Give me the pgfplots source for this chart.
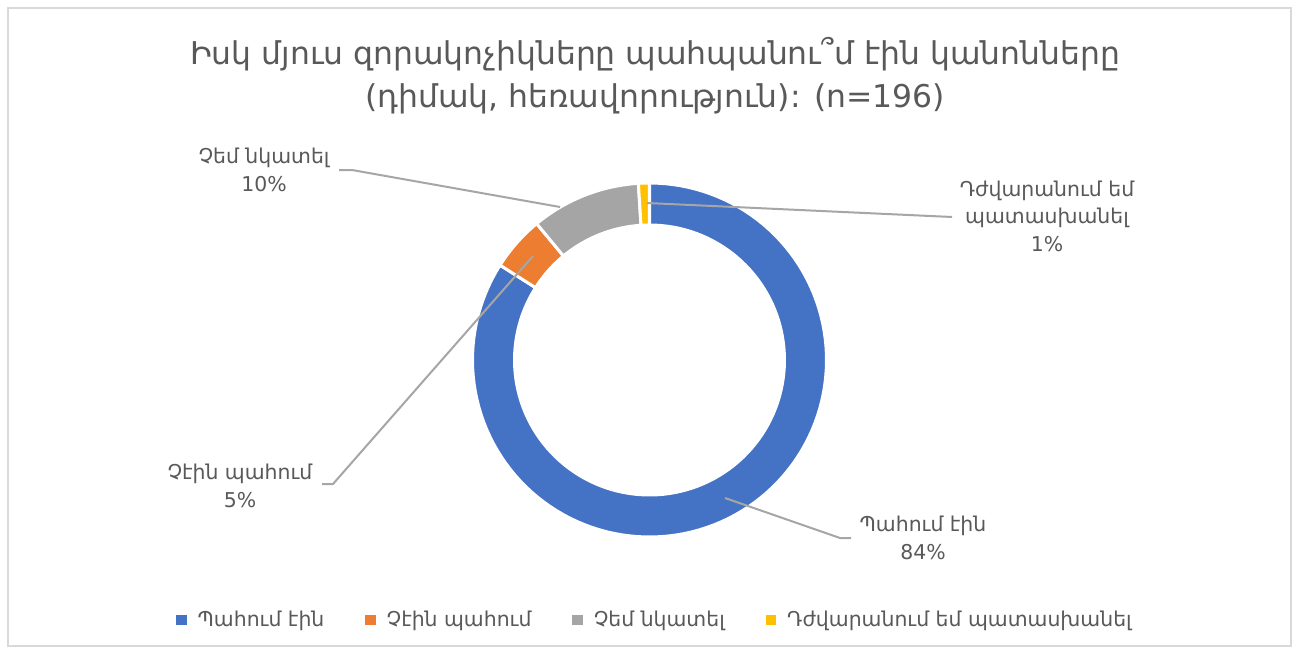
\documentclass[border=0pt]{standalone}
\usepackage{pgfplots}
\pgfplotsset{compat=1.18}
\usepackage{pgfplotstable}
\usepackage{fontspec}
\setmainfont{DejaVu Sans}
\definecolor{cblue}{HTML}{4472C4}
\definecolor{corange}{HTML}{ED7D31}
\definecolor{cgray}{HTML}{A5A5A5}
\definecolor{cyellow}{HTML}{FFC000}
\definecolor{txt}{HTML}{595959}
\definecolor{lead}{HTML}{A6A6A6}
\definecolor{frame}{HTML}{D9D9D9}

\pgfplotstableread{
value
84
5
10
1
}\donutdata

\newcommand\tfont{\fontsize{15.7bp}{21.5bp}\selectfont}
\newcommand\lfont{\fontsize{10.2bp}{13.8bp}\selectfont}
\newcommand\gfont{\fontsize{10.2bp}{12bp}\selectfont}

\newcommand\ringslice[3]{%
 \filldraw[fill=#3, draw=white, line width=1.5bp, line join=round]
   (axis cs:{649.5+177*cos(#1)},{360-177*sin(#1)})
   \foreach \i in {1,...,120} { -- (axis cs:{649.5+177*cos((#1)+((#2)-(#1))*\i/120)},{360-177*sin((#1)+((#2)-(#1))*\i/120)}) }
   \foreach \i in {0,...,120} { -- (axis cs:{649.5+135*cos((#2)+((#1)-(#2))*\i/120)},{360-135*sin((#2)+((#1)-(#2))*\i/120)}) }
   -- cycle;}

\begin{document}
\begin{tikzpicture}
\pgfplotstablegetelem{0}{value}\of\donutdata\pgfmathsetmacro\va{\pgfplotsretval}
\pgfplotstablegetelem{1}{value}\of\donutdata\pgfmathsetmacro\vb{\pgfplotsretval}
\pgfplotstablegetelem{2}{value}\of\donutdata\pgfmathsetmacro\vc{\pgfplotsretval}
\pgfplotstablegetelem{3}{value}\of\donutdata\pgfmathsetmacro\vd{\pgfplotsretval}
\pgfmathsetmacro\total{\va+\vb+\vc+\vd}
\pgfmathsetmacro\aA{90}
\pgfmathsetmacro\aB{\aA-360*(\va/\total)}
\pgfmathsetmacro\aC{\aB-360*(\vb/\total)}
\pgfmathsetmacro\aD{\aC-360*(\vc/\total)}
\pgfmathsetmacro\aE{\aD-360*(\vd/\total)}
\begin{axis}[
  scale only axis, width=649.5bp, height=327bp,
  xmin=0, xmax=1299, ymin=0, ymax=654, y dir=reverse,
  hide axis, clip=false,
  legend columns=4,
  legend style={at={(axis cs:656,620)}, anchor=center, draw=none, fill=none,
    font=\gfont, text=txt, inner sep=0pt,
    /tikz/every even column/.append style={column sep=18.5bp}},
  legend image code/.code={\fill[#1] (0bp,-2.4bp) rectangle (4.8bp,2.4bp);\path (8.3bp,0bp);},
]
\fill[white] (axis cs:0,0) rectangle (axis cs:1299,654);
\draw[frame, line width=1bp] (axis cs:8,8) rectangle (axis cs:1291,646);

\ringslice{\aA}{\aB}{cblue}
\ringslice{\aB}{\aC}{corange}
\ringslice{\aC}{\aD}{cgray}
\ringslice{\aD}{\aE}{cyellow}

\draw[lead, line width=1bp] (axis cs:339,170) -- (axis cs:352,170) -- (axis cs:560,207);
\draw[lead, line width=1bp] (axis cs:647,203) -- (axis cs:952,217);
\draw[lead, line width=1bp] (axis cs:322,484) -- (axis cs:333,484) -- (axis cs:533,256);
\draw[lead, line width=1bp] (axis cs:725,498) -- (axis cs:840,538) -- (axis cs:851,538);

\node[align=center, text=txt, font=\tfont] at (axis cs:655,76)
  {Իսկ մյուս զորակոչիկները պահպանու՞մ էին կանոնները\\(դիմակ, հեռավորություն): (n=196)};

\node[align=center, text=txt, font=\lfont] at (axis cs:264,170) {Չեմ նկատել\\10\%};
\node[align=center, text=txt, font=\lfont] at (axis cs:240,486) {Չէին պահում\\5\%};
\node[align=center, text=txt, font=\lfont] at (axis cs:923,538) {Պահում էին\\84\%};
\node[align=center, text=txt, font=\lfont] at (axis cs:1047,216) {Դժվարանում եմ\\պատասխանել\\1\%};

\addlegendimage{cblue, fill=cblue}
\addlegendentry{Պահում էին}
\addlegendimage{corange, fill=corange}
\addlegendentry{Չէին պահում}
\addlegendimage{cgray, fill=cgray}
\addlegendentry{Չեմ նկատել}
\addlegendimage{cyellow, fill=cyellow}
\addlegendentry{Դժվարանում եմ պատասխանել}
\end{axis}
\end{tikzpicture}
\end{document}
